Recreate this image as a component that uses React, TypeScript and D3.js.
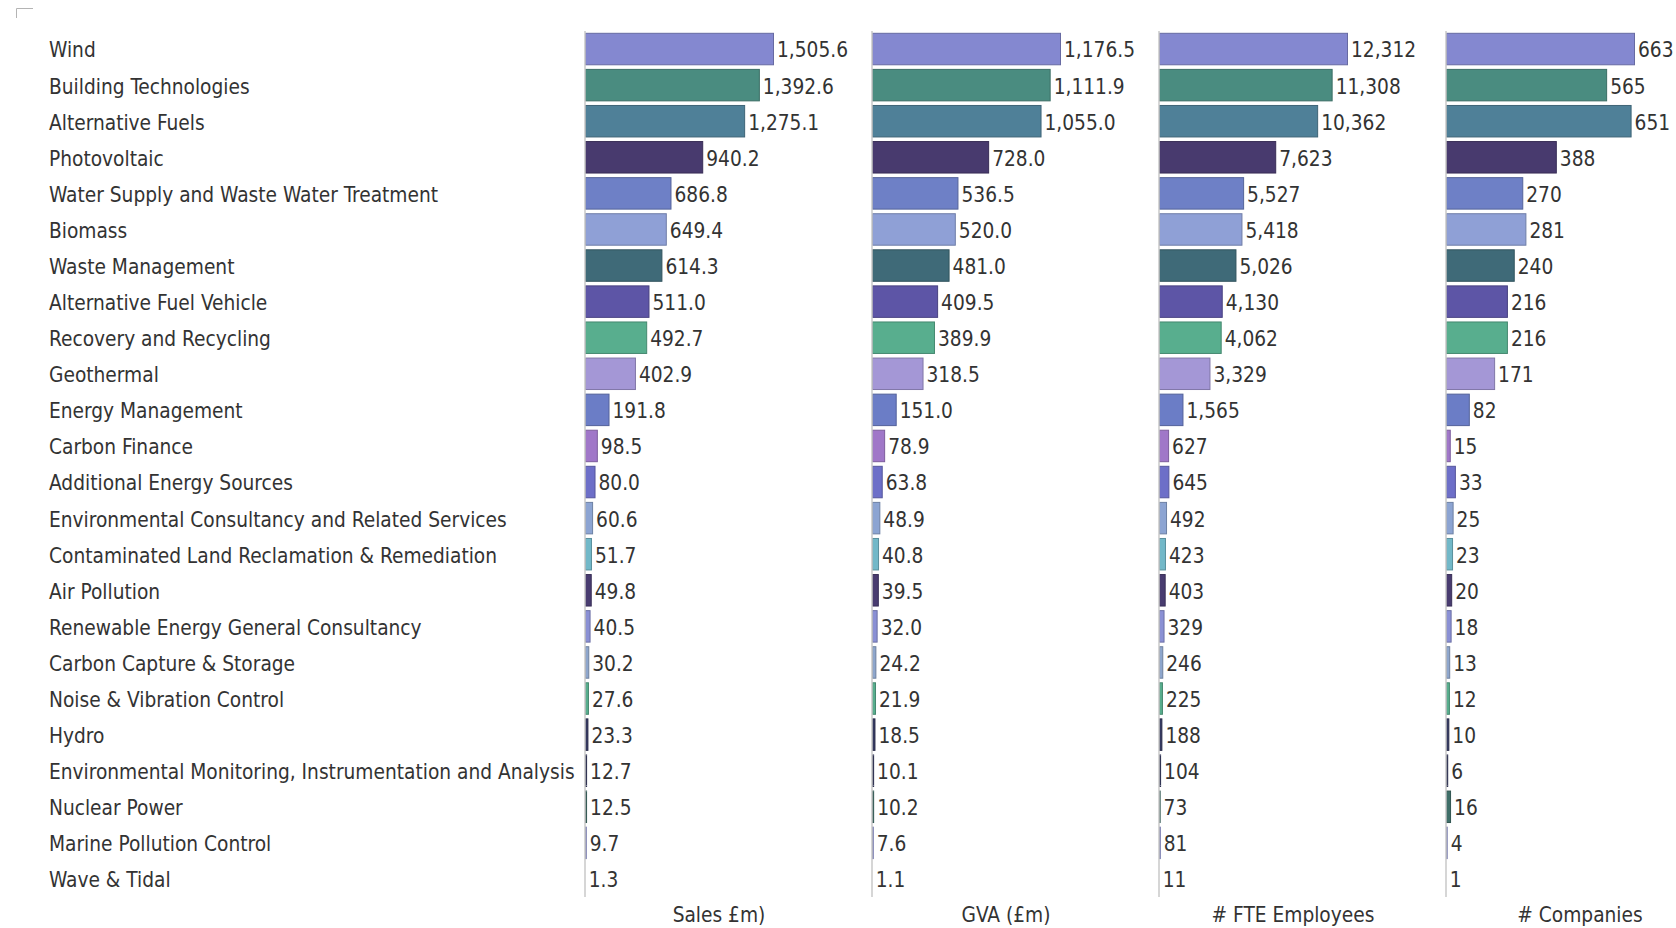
import React from "react";
import * as d3 from "d3";

const categories = [
  "Wind",
  "Building Technologies",
  "Alternative Fuels",
  "Photovoltaic",
  "Water Supply and Waste Water Treatment",
  "Biomass",
  "Waste Management",
  "Alternative Fuel Vehicle",
  "Recovery and Recycling",
  "Geothermal",
  "Energy Management",
  "Carbon Finance",
  "Additional Energy Sources",
  "Environmental Consultancy and Related Services",
  "Contaminated Land Reclamation & Remediation",
  "Air Pollution",
  "Renewable Energy General Consultancy",
  "Carbon Capture & Storage",
  "Noise & Vibration Control",
  "Hydro",
  "Environmental Monitoring, Instrumentation and Analysis",
  "Nuclear Power",
  "Marine Pollution Control",
  "Wave & Tidal",
];

const categoryColors = [
  "#8488d0", "#4a8c80", "#4f8098", "#483a6e", "#6e80c6", "#8fa0d6",
  "#3f6a78", "#5d55a6", "#58ae8e", "#a497d6", "#6b7dc6", "#a077c8",
  "#6d6fc8", "#8ca4d2", "#72b8c8", "#493c70", "#8a90d4", "#8ea6cc",
  "#58ae8e", "#343860", "#343860", "#3f6e68", "#8a90d4", "#7cc0b0",
];

const sales = [1505.6, 1392.6, 1275.1, 940.2, 686.8, 649.4, 614.3, 511.0, 492.7, 402.9, 191.8, 98.5, 80.0, 60.6, 51.7, 49.8, 40.5, 30.2, 27.6, 23.3, 12.7, 12.5, 9.7, 1.3];
const gva = [1176.5, 1111.9, 1055.0, 728.0, 536.5, 520.0, 481.0, 409.5, 389.9, 318.5, 151.0, 78.9, 63.8, 48.9, 40.8, 39.5, 32.0, 24.2, 21.9, 18.5, 10.1, 10.2, 7.6, 1.1];
const fteEmployees = [12312, 11308, 10362, 7623, 5527, 5418, 5026, 4130, 4062, 3329, 1565, 627, 645, 492, 423, 403, 329, 246, 225, 188, 104, 73, 81, 11];
const companies = [663, 565, 651, 388, 270, 281, 240, 216, 216, 171, 82, 15, 33, 25, 23, 20, 18, 13, 12, 10, 6, 16, 4, 1];

const panelTitles = ["Sales £m)", "GVA (£m)", "# FTE Employees", "# Companies"];
const panelValues = [sales, gva, fteEmployees, companies];
const panelFormats = [",.1f", ",.1f", ",d", ",d"];

const W = 1676;
const H = 928;
const FONT = "'DejaVu Sans Condensed', 'DejaVu Sans', sans-serif";
const FS = 20.7;

export default function App() {
  const y = d3
    .scaleBand<string>()
    .domain(categories)
    .range([31, 897])
    .paddingInner(0.1)
    .paddingOuter(0.05);

  const panelX = d3.scaleLinear().domain([0, 1]).range([585, 872]);
  const barRange = 188.5;

  return (
    <div style={{ position: "absolute", left: 0, top: 0, width: W, height: H, background: "#fff" }}>
      <svg width={W} height={H} style={{ display: "block" }} fontFamily={FONT}>
        <rect x={0} y={0} width={W} height={H} fill="#ffffff" />
        <path d="M16.5,18 V8.5 H33" fill="none" stroke="#b4b4b4" strokeWidth={1} />
        {categories.map((c) => (
          <text
            key={c}
            x={49}
            y={(y(c) ?? 0) + y.bandwidth() / 2 + 1}
            dy="0.36em"
            fontSize={FS}
            fill="#333333"
          >
            {c}
          </text>
        ))}
        {panelValues.map((vals, pi) => {
          const x0 = panelX(pi);
          const x = d3
            .scaleLinear()
            .domain([0, d3.max(vals) as number])
            .range([0, barRange]);
          const fmt = d3.format(panelFormats[pi]);
          return (
            <g key={pi} transform={`translate(${x0},0)`}>
              {vals.map((v, i) => {
                const c = categories[i];
                const col = categoryColors[i];
                const w = x(v);
                return (
                  <g key={c}>
                    <rect
                      x={0.5}
                      y={(y(c) ?? 0) + 0.5}
                      width={Math.max(0, w - 0.5)}
                      height={y.bandwidth() - 1}
                      fill={col}
                      stroke={d3.color(col)!.darker(0.7).formatHex()}
                      strokeWidth={1}
                    />
                    <text
                      x={w + 3.5}
                      y={(y(c) ?? 0) + y.bandwidth() / 2 + 1}
                      dy="0.36em"
                      fontSize={FS}
                      fill="#333333"
                    >
                      {fmt(v)}
                    </text>
                  </g>
                );
              })}
              <line x1={0} x2={0} y1={31} y2={897} stroke="#c8c8c8" strokeWidth={1.5} />
              <text x={134} y={922} textAnchor="middle" fontSize={FS} fill="#333333">
                {panelTitles[pi]}
              </text>
            </g>
          );
        })}
      </svg>
    </div>
  );
}
